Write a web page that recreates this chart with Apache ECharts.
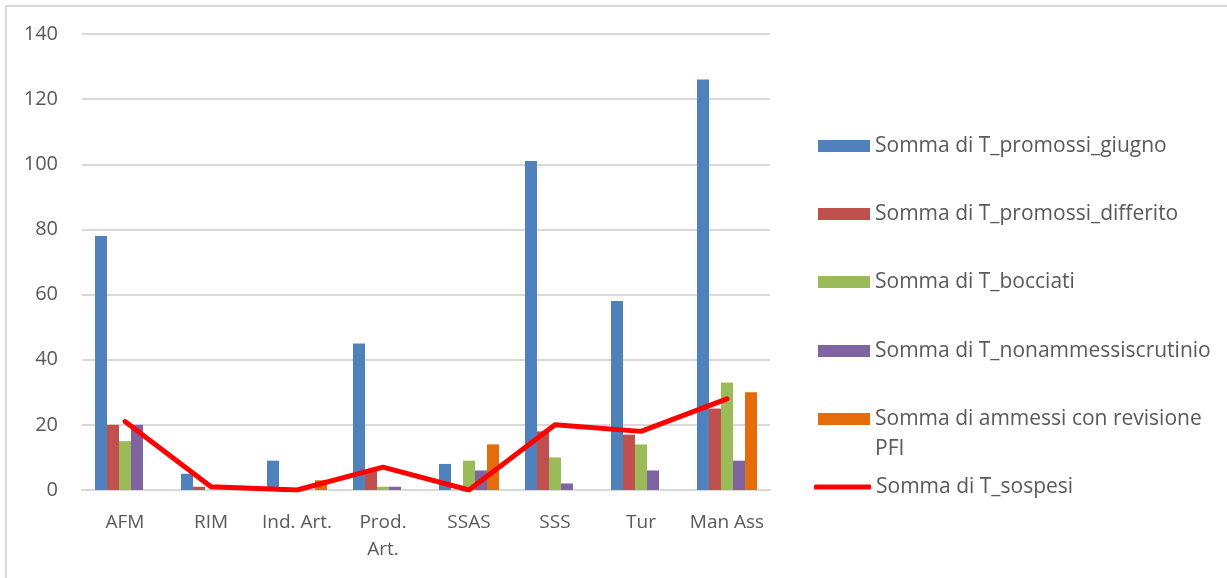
<!DOCTYPE html>
<html>
<head>
<meta charset="utf-8">
<script src="https://cdn.jsdelivr.net/npm/echarts@6/dist/echarts.min.js"></script>
<style>
  html, body { margin: 0; padding: 0; background: #fff; }
  #frame {
    position: absolute; left: 5px; top: 5px; width: 1222px; height: 573px;
    border-left: 2px solid #d9d9d9; border-top: 2px solid #d9d9d9;
  }
  #chart { position: absolute; left: 0; top: 0; width: 1227px; height: 578px; }
</style>
</head>
<body>
<div id="frame"></div>
<div id="chart"></div>
<script>
// indirizzi di studio
const categories = ['AFM', 'RIM', 'Ind. Art.', 'Prod. Art.', 'SSAS', 'SSS', 'Tur', 'Man Ass'];

const promossiGiugno = [78, 5, 9, 45, 8, 101, 58, 126];
const promossiDifferito = [20, 1, 0, 6, 0, 18, 17, 25];
const bocciati = [15, 0, 0, 1, 9, 10, 14, 33];
const nonAmmessi = [20, 0, 0, 1, 6, 2, 6, 9];
const ammessiPFI = [0, 0, 3, 0, 14, 0, 0, 30];
const sospesi = [21, 1, 0, 7, 0, 20, 18, 28];

const yTicks = [0, 20, 40, 60, 80, 100, 120, 140];

const names = [
  'Somma di T_promossi_giugno',
  'Somma di T_promossi_differito',
  'Somma di T_bocciati',
  'Somma di T_nonammessiscrutinio',
  'Somma di ammessi con revisione PFI',
  'Somma di T_sospesi'
];
const colors = ['#4f81bd', '#c0504d', '#9bbb59', '#8064a2', '#e46c0a', '#ff0000'];
// centro verticale di ogni voce della legenda
const legendCenters = [146, 214, 282, 351, 419, 487];

const font = '"Open Sans", "Noto Sans", sans-serif';

const chart = echarts.init(document.getElementById('chart'));

const barData = [promossiGiugno, promossiDifferito, bocciati, nonAmmessi, ammessiPFI];

const series = barData.map((d, i) => ({
  name: names[i],
  type: 'bar',
  data: d,
  barWidth: 12,
  barGap: '0%',
  itemStyle: { color: colors[i] }
}));
series.push({
  name: names[5],
  type: 'line',
  data: sospesi,
  symbol: 'none',
  z: 5,
  lineStyle: { color: colors[5], width: 5, cap: 'round', join: 'round' },
  itemStyle: { color: colors[5] }
});

const legends = names.map((n, i) => {
  const isLine = i === 5;
  const isWrap = i === 4;
  const half = isWrap ? 45 : 15;
  return {
    data: [n],
    orient: 'vertical',
    left: isLine ? 809 : 813,
    top: legendCenters[i] - half - 5,
    itemWidth: isLine ? 57 : 52,
    itemHeight: isLine ? 5 : 12,
    icon: isLine ? 'roundRect' : 'rect',
    selectedMode: false,
    // riga vuota in testa: la prima riga resta allineata al simbolo
    formatter: v => v === names[4] ? '\nSomma di ammessi con revisione\nPFI' : v,
    textStyle: { fontFamily: font, fontSize: 21, color: '#595959', lineHeight: 30 }
  };
});

chart.setOption({
  animation: false,
  backgroundColor: 'transparent',
  grid: { left: 82, right: 457, top: 34, bottom: 88 },
  legend: legends,
  xAxis: {
    type: 'category',
    data: categories,
    axisLine: { lineStyle: { color: '#d9d9d9', width: 2 } },
    axisTick: { show: false },
    axisLabel: {
      fontFamily: font, fontSize: 19, color: '#595959', margin: 19, lineHeight: 27,
      interval: 0,
      formatter: v => v === 'Prod. Art.' ? 'Prod.\nArt.' : v
    }
  },
  yAxis: {
    type: 'value',
    min: yTicks[0],
    max: yTicks[yTicks.length - 1],
    interval: 20,
    axisLine: { show: false },
    axisTick: { show: false },
    splitLine: { lineStyle: { color: '#d9d9d9', width: 2 } },
    axisLabel: { fontFamily: font, fontSize: 20, color: '#595959', margin: 24 }
  },
  series: series
});
</script>
</body>
</html>
